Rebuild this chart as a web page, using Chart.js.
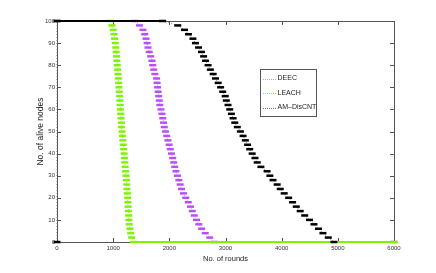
<!DOCTYPE html>
<html>
<head>
<meta charset="utf-8">
<script src="https://cdn.jsdelivr.net/npm/chart.js@4/dist/chart.umd.min.js"></script>
<style>
  html, body { margin: 0; padding: 0; background: #fff; }
  canvas { display: block; }
</style>
</head>
<body>
<canvas id="graph-alive" width="436" height="273"></canvas>
<script>
// alive nodes (every second dead node gets a marker)
const alive = [100, 98, 96, 94, 92, 90, 88, 86, 84, 82, 80, 78, 76, 74, 72, 70, 68, 66, 64, 62,
	60, 58, 56, 54, 52, 50, 48, 46, 44, 42, 40, 38, 36, 34, 32, 30, 28, 26, 24, 22,
	20, 18, 16, 14, 12, 10, 8, 6, 4, 2, 0];

// round at which each alive count is reached
const roundsDEEC = [1385, 1470, 1530, 1562, 1585, 1604, 1620, 1642, 1668, 1691, 1705, 1722, 1742, 1773, 1782, 1791, 1801, 1811, 1821, 1831,
	1851, 1869, 1883, 1897, 1910, 1932, 1953, 1975, 1996, 2017, 2038, 2060, 2078, 2096, 2118, 2144, 2169, 2193, 2217, 2252,
	2292, 2338, 2377, 2408, 2444, 2484, 2525, 2575, 2640, 2720, 2800];

const roundsLEACH = [950, 980, 1000, 1015, 1026, 1036, 1046, 1053, 1060, 1066, 1073, 1080, 1086, 1092, 1098, 1103, 1108, 1114, 1119, 1124,
	1130, 1135, 1140, 1145, 1150, 1158, 1165, 1172, 1179, 1186, 1194, 1201, 1208, 1215, 1222, 1229, 1236, 1242, 1247, 1252,
	1257, 1262, 1267, 1271, 1276, 1280, 1286, 1298, 1312, 1328, 1360];

const roundsAM = [1880, 2150, 2270, 2340, 2420, 2465, 2520, 2572, 2610, 2645, 2690, 2730, 2780, 2822, 2870, 2913, 2950, 2995, 3015, 3045,
	3075, 3105, 3135, 3165, 3210, 3265, 3313, 3353, 3393, 3431, 3475, 3525, 3565, 3630, 3740, 3790, 3846, 3920, 3975, 4045,
	4125, 4195, 4260, 4330, 4410, 4495, 4575, 4655, 4735, 4830, 4930];

const xTicks = [0, 1000, 2000, 3000, 4000, 5000, 6000];
const yTicks = [0, 10, 20, 30, 40, 50, 60, 70, 80, 90, 100];
const firstRound = 0;
const lastRound = 6000;
const allAlive = 100;

const FONT = "'Liberation Sans', Arial, sans-serif";
Chart.defaults.font.family = FONT;

function toPoints(rounds, start, end) {
	const pts = start.slice();
	rounds.forEach((r, i) => pts.push({x: r, y: alive[i]}));
	return pts.concat(end);
}

function serie(label, color, lineColor, data, order) {
	const flat = c => c.p0.parsed.y === c.p1.parsed.y;
	return {
		label: label,
		data: data,
		order: order,
		showLine: true,
		borderColor: lineColor,
		borderWidth: 1,
		borderDash: [1, 2],
		segment: {
			borderDash: c => flat(c) ? [] : [1, 2],
			borderWidth: c => flat(c) ? 2 : 1,
			borderColor: c => flat(c) ? color : lineColor
		},
		pointStyle: 'line',
		pointRadius: 3.5,
		pointBorderWidth: 2.5,
		pointBorderColor: color,
		pointBackgroundColor: color,
		legendColor: lineColor,
		clip: 6
	};
}

// box + inward ticks on all four sides
const frame = {
	id: 'frame',
	beforeDatasetsDraw(chart) {
		const {ctx, chartArea: a, scales} = chart;
		ctx.save();
		ctx.strokeStyle = '#555';
		ctx.lineWidth = 1;
		ctx.strokeRect(a.left + 0.5, a.top + 0.5, a.right - a.left, a.bottom - a.top);
		ctx.beginPath();
		xTicks.forEach(v => {
			const px = Math.round(scales.x.getPixelForValue(v)) + 0.5;
			ctx.moveTo(px, a.bottom); ctx.lineTo(px, a.bottom - 4);
			ctx.moveTo(px, a.top); ctx.lineTo(px, a.top + 4);
		});
		yTicks.forEach(v => {
			const py = Math.round(scales.y.getPixelForValue(v)) + 0.5;
			ctx.moveTo(a.left, py); ctx.lineTo(a.left + 4, py);
			ctx.moveTo(a.right, py); ctx.lineTo(a.right - 4, py);
		});
		ctx.stroke();
		ctx.restore();
	}
};

// matlab style legend box inside the plot
const legendBox = {
	id: 'legendBox',
	afterDraw(chart) {
		const ctx = chart.ctx;
		const x = 260, y = 69, w = 56, h = 47;
		ctx.save();
		ctx.fillStyle = '#fff';
		ctx.fillRect(x, y, w, h);
		ctx.strokeStyle = '#555';
		ctx.lineWidth = 1;
		ctx.strokeRect(x + 0.5, y + 0.5, w, h);
		ctx.font = '7px ' + FONT;
		ctx.textBaseline = 'middle';
		chart.data.datasets.forEach((ds, i) => {
			const ry = y + 9.5 + i * 14.5;
			ctx.strokeStyle = ds.legendColor;
			ctx.setLineDash([1, 1]);
			ctx.beginPath();
			ctx.moveTo(x + 3, Math.round(ry) + 0.5);
			ctx.lineTo(x + 16, Math.round(ry) + 0.5);
			ctx.stroke();
			ctx.setLineDash([]);
			ctx.fillStyle = '#222';
			ctx.fillText(ds.label, x + 17.5, ry);
		});
		ctx.restore();
	}
};

const ctx = document.getElementById('graph-alive');
const chartGraph = new Chart(ctx, {
	type: 'scatter',
	data: {
		datasets: [
			serie('DEEC', 'rgb(185,80,245)', 'rgb(215,140,240)',
				toPoints(roundsDEEC, [{x: firstRound, y: allAlive}], [{x: lastRound, y: 0}]), 2),
			serie('LEACH', 'rgb(125,245,0)', 'rgb(140,235,60)',
				toPoints(roundsLEACH, [{x: firstRound, y: allAlive}], [{x: lastRound, y: 0}]), 1),
			serie('AM\u2013DisCNT', '#000', '#777',
				toPoints(roundsAM, [{x: firstRound, y: 0}, {x: firstRound, y: allAlive}], []), 0)
		]
	},
	options: {
		responsive: false,
		animation: false,
		layout: { padding: { left: 31, top: 21, right: 42, bottom: 0 } },
		plugins: {
			legend: { display: false },
			tooltip: { enabled: false }
		},
		scales: {
			x: {
				type: 'linear',
				min: 0,
				max: 6000,
				afterBuildTicks: s => { s.ticks = xTicks.map(v => ({value: v})); },
				afterFit: s => { s.height = 31; },
				ticks: { font: { size: 6 }, color: '#333', padding: 3, maxRotation: 0, callback: v => String(v) },
				grid: { display: false, drawTicks: false },
				border: { display: false },
				title: { display: true, text: 'No. of rounds', color: '#222', font: { size: 7.5 }, padding: { top: 0, bottom: 10 } }
			},
			y: {
				min: 0,
				max: 100,
				afterBuildTicks: s => { s.ticks = yTicks.map(v => ({value: v})); },
				afterFit: s => { s.width = 26; },
				ticks: { font: { size: 6 }, color: '#333', padding: 2, callback: v => String(v) },
				grid: { display: false, drawTicks: false },
				border: { display: false },
				title: { display: true, text: 'No. of alive nodes', color: '#222', font: { size: 8.5 }, padding: { top: 5, bottom: 0 } }
			}
		}
	},
	plugins: [frame, legendBox]
});
</script>
</body>
</html>
